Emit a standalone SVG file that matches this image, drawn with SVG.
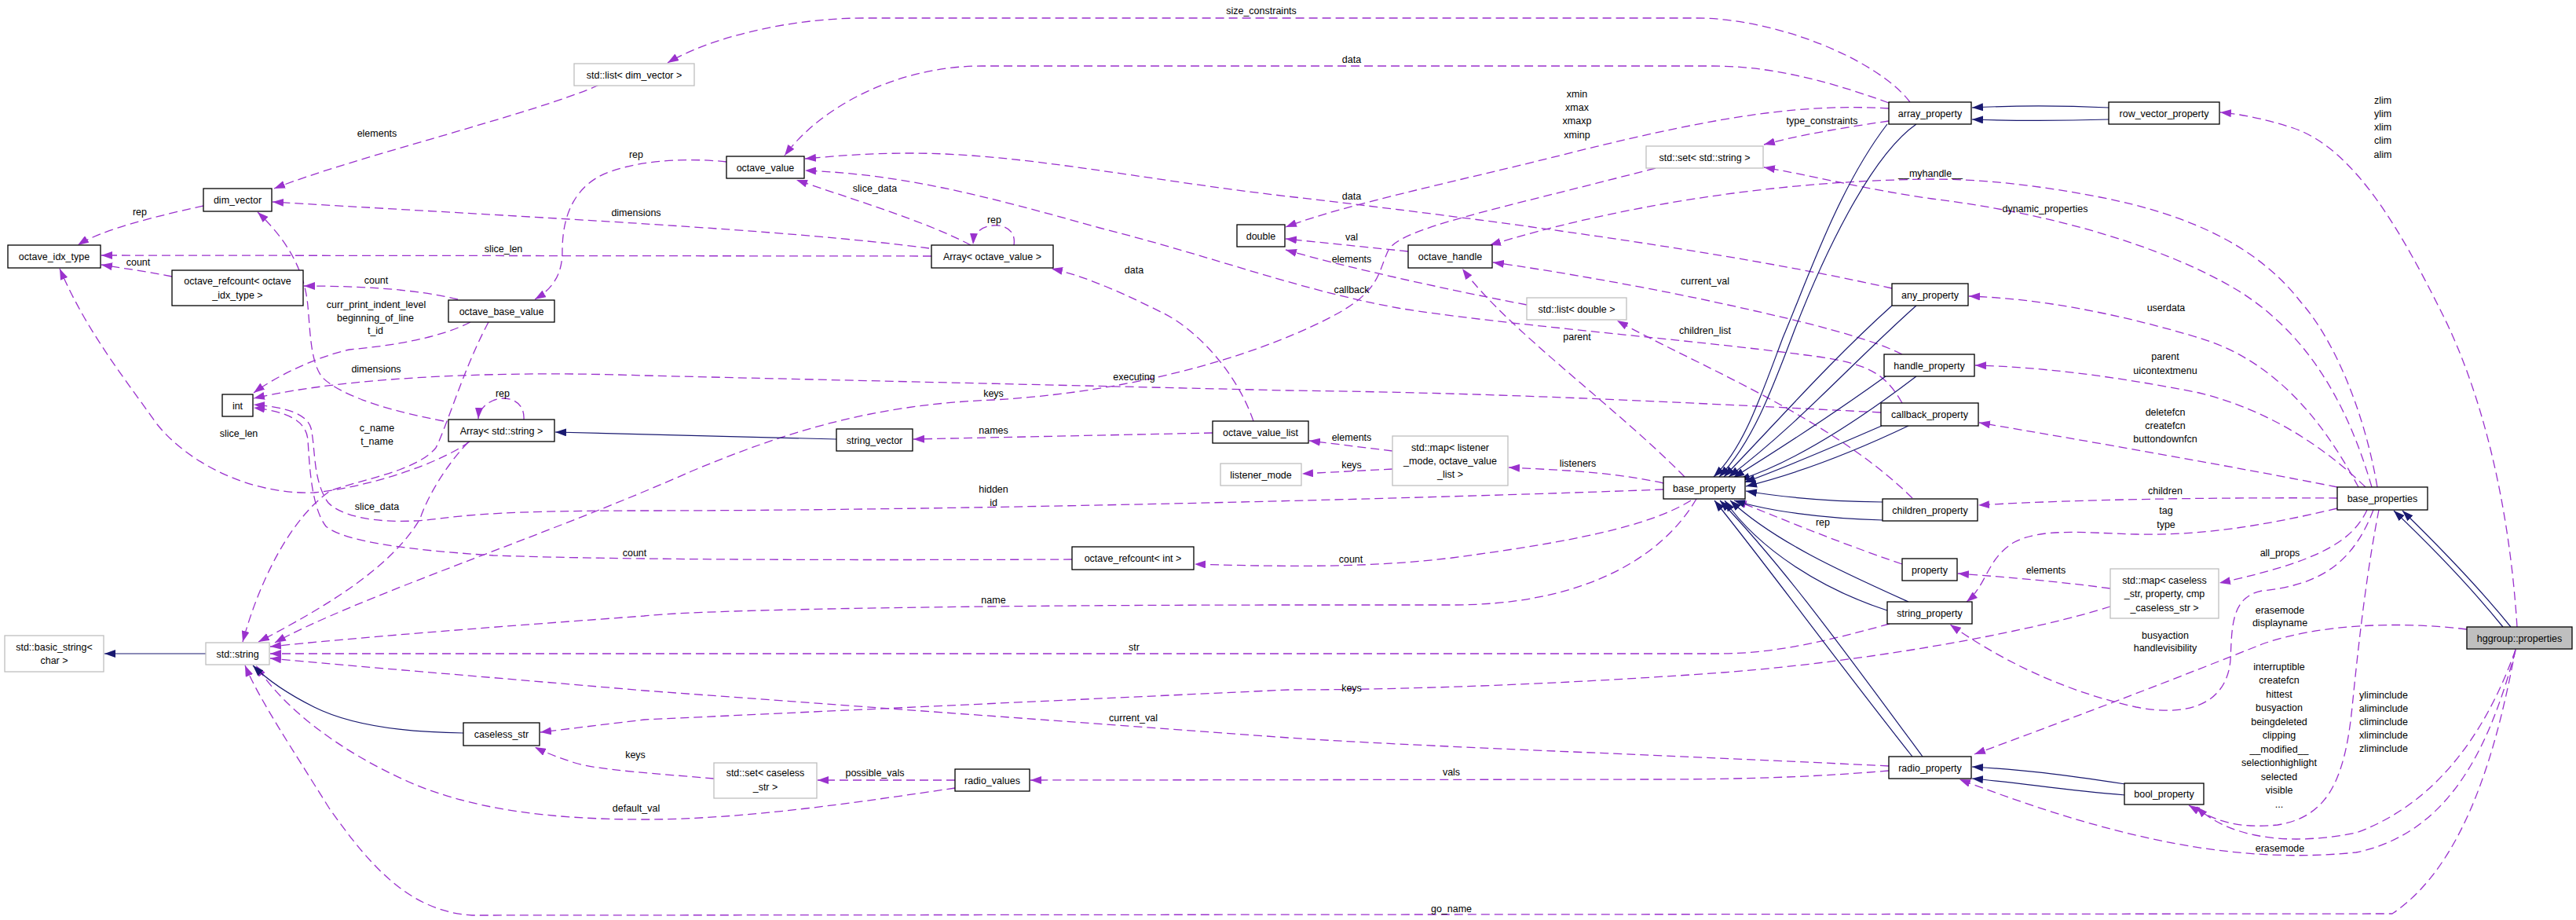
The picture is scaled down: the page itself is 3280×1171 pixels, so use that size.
<svg xmlns="http://www.w3.org/2000/svg" width="3280" height="1171" viewBox="0 0 3280 1171">
<style>
text{font-family:"Liberation Sans",Arial,sans-serif;font-size:12.5px;fill:#000;text-anchor:middle}
.node rect{fill:#fff;stroke:#000;stroke-width:1.3}
.node rect.gray{stroke:#bfbfbf}
.node rect.main{fill:#bfbfbf}
.u{fill:none;stroke:#9a32cd;stroke-width:1.3;stroke-dasharray:11,6;marker-end:url(#ap)}
.i{fill:none;stroke:#191970;stroke-width:1.2;marker-end:url(#ab)}
</style>
<defs>
<marker id="ap" markerUnits="userSpaceOnUse" markerWidth="14" markerHeight="10" viewBox="0 0 14 10" refX="14" refY="5" orient="auto"><path d="M0,0 L14,5 L0,10 z" fill="#9a32cd"/></marker>
<marker id="ab" markerUnits="userSpaceOnUse" markerWidth="14" markerHeight="10" viewBox="0 0 14 10" refX="14" refY="5" orient="auto"><path d="M0,0 L14,5 L0,10 z" fill="#191970"/></marker>
</defs>
<rect width="3280" height="1171" fill="#fff"/>

<g id="connectors">
<g class="edge"><path class="u" d="M763,108 C 680,145 450,200 349,240"/><text x="480" y="173.5">elements</text></g>
<g class="edge"><path class="u" d="M259,262 C 200,275 130,292 99,312"/><text x="178" y="273.5">rep</text></g>
<g class="edge"><path class="u" d="M219,352 C 190,346 160,342 129,337"/><text x="176" y="337.5">count</text></g>
<g class="edge"><path class="u" d="M583,381 C 530,368 460,364 387,364"/><text x="479" y="360.5">count</text></g>
<g class="edge"><path class="u" d="M1186,326 L129,325"/><text x="641" y="320.5">slice_len</text></g>
<g class="edge"><path class="u" d="M1183,316 C 1000,292 700,278 347,257"/><text x="810" y="274.5">dimensions</text></g>
<g class="edge"><path class="u" d="M925,206 C 870,200 800,205 762,225 C 722,248 716,290 716,320 C 716,350 703,368 681,381"/><text x="810" y="200.5">rep</text></g>
<g class="edge"><path class="u" d="M1236,312 C 1180,282 1080,252 1014,229"/><text x="1114" y="243.5">slice_data</text></g>
<g class="edge"><path class="u" d="M1291,312 C 1294,292 1278,286 1265,287 C 1250,288 1240,296 1239,311"/><text x="1266" y="283.5">rep</text></g>
<g class="edge"><path class="u" d="M2432,130 C 2390,75 2260,23 2160,23 L 1100,23 C 1000,23 900,50 850,80"/><text x="1606" y="17.5">size_constraints</text></g>
<g class="edge"><path class="u" d="M2405,131 C 2320,100 2250,84 2180,84 L 1250,84 C 1150,84 1050,130 999,198"/><text x="1721" y="79.5">data</text></g>
<g class="edge"><path class="u" d="M2405,138 C 2300,132 2200,145 2006,193 C 1860,230 1720,258 1637,289"/><text x="2008" y="123.5">xmin</text><text x="2008" y="140.5">xmax</text><text x="2008" y="157.5">xmaxp</text><text x="2008" y="175.5">xminp</text></g>
<g class="edge"><path class="u" d="M2405,154 C 2350,162 2290,172 2246,184"/><text x="2320" y="157.5">type_constraints</text></g>
<g class="edge"><path class="u" d="M2108,214 C 1900,268 1785,290 1768,318 C 1755,345 1758,368 1705,398 C 1620,445 1460,498 1265,509 C 1110,515 1000,550 880,600 C 700,680 450,762 350,818"/><text x="1265" y="504.5">keys</text></g>
<g class="edge"><path class="u" d="M1544,551 L1163,559"/><text x="1265" y="551.5">names</text></g>
<g class="edge"><path class="u" d="M1596,536 C 1575,475 1525,420 1480,398 C 1440,378 1385,352 1339,342"/><text x="1444" y="347.5">data</text></g>
<g class="edge"><path class="u" d="M1773,574 L1667,561"/><text x="1721" y="560.5">elements</text></g>
<g class="edge"><path class="u" d="M1773,597 L1658,603"/><text x="1721" y="595.5">keys</text></g>
<g class="edge"><path class="u" d="M2118,615 C 2050,600 1980,598 1921,595"/><text x="2009" y="593.5">listeners</text></g>
<g class="edge"><path class="u" d="M2145,607 C 2060,520 1920,420 1862,342"/><text x="2008" y="432.5">parent</text></g>
<g class="edge"><path class="u" d="M2422,513 C 2400,475 2380,462 2300,452 C 2150,432 1900,412 1780,392 C 1650,368 1550,328 1400,290 C 1250,248 1150,222 1025,217"/><text x="1721" y="372.5">callback</text></g>
<g class="edge"><path class="u" d="M2409,367 C 2200,320 1900,280 1640,250 C 1450,228 1300,195 1160,195 C 1100,195 1060,199 1025,202"/><text x="1721" y="253.5">data</text></g>
<g class="edge"><path class="u" d="M1793,320 L1637,304"/><text x="1721" y="305.5">val</text></g>
<g class="edge"><path class="u" d="M1944,388 C 1850,370 1720,342 1637,318"/><text x="1721" y="333.5">elements</text></g>
<g class="edge"><path class="u" d="M3027,620 C 3010,520 2970,430 2930,385 C 2880,320 2800,275 2669,250 C 2600,237 2530,228 2460,228 C 2250,230 2050,265 1897,312"/><text x="2458" y="224.5">__myhandle__</text></g>
<g class="edge"><path class="u" d="M3020,620 C 2985,500 2930,420 2850,370 C 2750,310 2600,270 2460,253 C 2380,242 2300,222 2246,213"/><text x="2604" y="269.5">dynamic_properties</text></g>
<g class="edge"><path class="u" d="M3003,620 C 2960,540 2900,460 2800,430 C 2700,400 2600,380 2507,377"/><text x="2758" y="395.5">userdata</text></g>
<g class="edge"><path class="u" d="M2422,451 C 2380,430 2300,410 2200,388 C 2100,366 1980,345 1901,334"/><text x="2171" y="361.5">current_val</text></g>
<g class="edge"><path class="u" d="M2435,634 C 2330,530 2150,460 2059,408"/><text x="2171" y="424.5">children_list</text></g>
<g class="edge"><path class="u" d="M2395,525 C 2100,510 1900,500 1640,497 L 820,478 C 650,472 450,478 323,507"/><text x="1444" y="483.5">executing</text></g>
<g class="edge"><path class="u" d="M599,410 C 560,430 500,440 445,445 C 400,455 350,480 323,500"/><text x="479" y="391.5">curr_print_indent_level</text><text x="478" y="408.5">beginning_of_line</text><text x="478" y="424.5">t_id</text></g>
<g class="edge"><path class="u" d="M2118,623 C 1800,635 1200,650 820,650 C 700,650 620,652 560,660 C 500,668 440,662 418,640 C 398,612 402,572 396,545 C 390,525 360,518 323,515"/><text x="1265" y="626.5">hidden</text><text x="1265" y="643.5">id</text></g>
<g class="edge"><path class="u" d="M1365,712 C 1100,713 800,713 628,707 C 520,700 440,690 415,670 C 396,645 394,590 392,560 C 390,535 365,524 323,519"/><text x="808" y="707.5">count</text></g>
<g class="edge"><path class="u" d="M2153,637 C 2100,670 2000,690 1849,710 C 1750,722 1650,722 1521,718"/><text x="1720" y="715.5">count</text></g>
<g class="edge"><path class="u" d="M2160,635 C 2110,720 2000,770 1850,770 L 1640,770 C 1300,770 900,775 820,784 C 600,800 450,812 344,823"/><text x="1265" y="767.5">name</text></g>
<g class="edge"><path class="u" d="M2406,794 C 2330,815 2260,832 2190,832 L 344,832"/><text x="1444" y="827.5">str</text></g>
<g class="edge"><path class="u" d="M2405,975 C 2100,960 1800,950 1640,939 L 820,879 C 600,860 450,848 344,838"/><text x="1443" y="917.5">current_val</text></g>
<g class="edge"><path class="u" d="M2687,772 C 2600,800 2400,840 2194,856 C 2000,870 1800,878 1640,878 L 820,916 L 688,932"/><text x="1721" y="879.5">keys</text></g>
<g class="edge"><path class="u" d="M909,991 C 840,985 760,980 732,971 C 710,964 695,958 681,951"/><text x="809" y="964.5">keys</text></g>
<g class="edge"><path class="u" d="M1216,993 L1041,993"/><text x="1114" y="987.5">possible_vals</text></g>
<g class="edge"><path class="u" d="M1216,1003 C 1100,1020 950,1043 820,1043 C 700,1043 600,1030 520,995 C 430,955 360,900 326,847"/><text x="810" y="1032.5">default_val</text></g>
<g class="edge"><path class="u" d="M3203,826 C 3180,950 3140,1100 3046,1163 L 601,1165 C 520,1160 470,1100 420,1030 C 370,950 330,890 312,847"/><text x="1848" y="1160.5">go_name</text></g>
<g class="edge"><path class="u" d="M2405,981 C 2300,990 2200,992 2100,992 L 1312,993"/><text x="1848" y="986.5">vals</text></g>
<g class="edge"><path class="u" d="M3205,798 C 3195,640 3160,500 3110,400 C 3060,300 3000,190 2920,163 C 2880,150 2850,145 2827,143"/><text x="3034" y="131.5">zlim</text><text x="3034" y="148.5">ylim</text><text x="3034" y="165.5">xlim</text><text x="3034" y="182.5">clim</text><text x="3034" y="200.5">alim</text></g>
<g class="edge"><path class="u" d="M3012,620 C 2950,560 2880,520 2800,500 C 2700,480 2600,467 2515,465"/><text x="2757" y="457.5">parent</text><text x="2757" y="475.5">uicontextmenu</text></g>
<g class="edge"><path class="u" d="M2976,620 C 2850,595 2650,560 2520,538"/><text x="2757" y="528.5">deletefcn</text><text x="2757" y="545.5">createfcn</text><text x="2757" y="562.5">buttondownfcn</text></g>
<g class="edge"><path class="u" d="M2976,634 C 2850,633 2650,635 2519,643"/><text x="2757" y="628.5">children</text></g>
<g class="edge"><path class="u" d="M2976,647 C 2880,670 2800,682 2720,680 C 2650,678 2600,672 2565,690 C 2530,710 2530,745 2504,766"/><text x="2758" y="653.5">tag</text><text x="2758" y="671.5">type</text></g>
<g class="edge"><path class="u" d="M3014,649 C 2995,690 2950,715 2826,742"/><text x="2903" y="707.5">all_props</text></g>
<g class="edge"><path class="u" d="M2687,749 C 2620,740 2560,735 2493,730"/><text x="2605" y="729.5">elements</text></g>
<g class="edge"><path class="u" d="M2422,718 C 2340,690 2280,665 2210,637"/><text x="2321" y="668.5">rep</text></g>
<g class="edge"><path class="u" d="M3022,649 C 2995,720 2950,745 2880,752 C 2840,760 2842,800 2840,840 C 2835,900 2780,912 2720,900 C 2620,878 2540,835 2483,795"/><text x="2903" y="780.5">erasemode</text><text x="2903" y="796.5">displayname</text></g>
<g class="edge"><path class="u" d="M3141,801 C 3050,790 2950,795 2880,820 C 2780,860 2650,910 2514,960"/><text x="2757" y="812.5">busyaction</text><text x="2757" y="828.5">handlevisibility</text></g>
<g class="edge"><path class="u" d="M3203,828 C 3170,950 3120,1060 3000,1085 C 2850,1100 2700,1070 2495,992"/><text x="2903" y="1083.5">erasemode</text></g>
<g class="edge"><path class="u" d="M3029,649 C 3015,720 3005,800 2995,900 C 2985,1000 2960,1040 2900,1050 C 2850,1055 2820,1045 2787,1025"/><text x="2902" y="852.5">interruptible</text><text x="2902" y="870">createfcn</text><text x="2902" y="887.5">hittest</text><text x="2902" y="905">busyaction</text><text x="2902" y="922.5">beingdeleted</text><text x="2902" y="940">clipping</text><text x="2902" y="957.5">__modified__</text><text x="2902" y="975">selectionhighlight</text><text x="2902" y="992.5">selected</text><text x="2902" y="1010">visible</text><text x="2902" y="1027.5">...</text></g>
<g class="edge"><path class="u" d="M3203,827 C 3170,920 3110,1020 3000,1060 C 2900,1080 2830,1060 2797,1027"/><text x="3035" y="888.5">yliminclude</text><text x="3035" y="905.5">aliminclude</text><text x="3035" y="922.5">climinclude</text><text x="3035" y="939.5">xliminclude</text><text x="3035" y="956.5">zliminclude</text></g>
<g class="edge"><path class="u" d="M667,534 C 668,515 655,507 640,507 C 625,508 610,518 609,533"/><text x="640" y="504.5">rep</text></g>
<g class="edge"><path class="u" d="M565,536 C 480,520 430,500 410,480 C 395,460 395,420 392,390 C 388,340 360,300 328,270"/><text x="479" y="473.5">dimensions</text></g>
<g class="edge"><path class="u" d="M598,562 C 560,590 470,620 400,627 C 320,630 240,590 200,540 C 150,470 110,420 76,342"/><text x="304" y="555.5">slice_len</text></g>
<g class="edge"><path class="u" d="M622,410 C 590,470 570,540 555,570 C 530,600 460,610 420,625 C 370,660 330,740 309,817"/><text x="480" y="548.5">c_name</text><text x="480" y="565.5">t_name</text></g>
<g class="edge"><path class="u" d="M596,563 C 570,590 545,630 535,660 C 500,720 420,770 329,817"/><text x="480" y="648.5">slice_data</text></g>

<path class="i" d="M2685,137 C 2620,134 2570,134 2511,137"/>
<path class="i" d="M2685,152 C 2620,154 2570,154 2511,152"/>
<path class="i" d="M2403,158 C 2340,240 2300,360 2270,430 C 2240,510 2220,570 2182,607"/>
<path class="i" d="M2440,158 C 2380,200 2320,330 2285,420 C 2255,500 2230,565 2189,607"/>
<path class="i" d="M2409,389 C 2330,460 2260,540 2195,607"/>
<path class="i" d="M2440,389 C 2360,460 2290,540 2201,607"/>
<path class="i" d="M2401,479 C 2330,530 2260,575 2207,608"/>
<path class="i" d="M2440,479 C 2360,540 2280,590 2214,611"/>
<path class="i" d="M2396,542 C 2320,575 2260,600 2221,614"/>
<path class="i" d="M2430,542 C 2350,580 2280,605 2223,619"/>
<path class="i" d="M2397,639 C 2320,638 2270,633 2223,625"/>
<path class="i" d="M2397,662 C 2320,660 2250,650 2208,637"/>
<path class="i" d="M2430,766 C 2350,730 2260,690 2203,637"/>
<path class="i" d="M2403,777 C 2320,750 2240,700 2196,637"/>
<path class="i" d="M2435,963 C 2330,830 2250,720 2183,637"/>
<path class="i" d="M2448,963 C 2350,830 2270,720 2190,637"/>
<path class="i" d="M2706,998 C 2620,985 2580,980 2511,976"/>
<path class="i" d="M2706,1012 C 2620,1005 2580,997 2511,991"/>
<path class="i" d="M3187,798 C 3140,740 3090,690 3048,650"/>
<path class="i" d="M3197,798 C 3150,740 3100,690 3059,650"/>
<path class="i" d="M590,933 C 500,932 440,920 400,900 C 360,880 335,860 322,847"/>
<path class="i" d="M262,832 L133,832"/>
<path class="i" d="M1065,559 L707,550"/>
</g>

<g id="n_std_list_dim_vector" class="node"><rect class="gray" x="731" y="81" width="153" height="28"/><text x="807.5" y="99.5">std::list&lt; dim_vector &gt;</text></g>
<g id="n_dim_vector" class="node"><rect x="259" y="240" width="87" height="29"/><text x="302.5" y="259">dim_vector</text></g>
<g id="n_octave_idx_type" class="node"><rect x="10" y="312" width="118" height="29"/><text x="69" y="331">octave_idx_type</text></g>
<g id="n_octave_refcount_idx" class="node"><rect x="219" y="344" width="167" height="45"/><text x="302.5" y="361.5">octave_refcount&lt; octave</text><text x="302.5" y="379.5">_idx_type &gt;</text></g>
<g id="n_octave_base_value" class="node"><rect x="571" y="382" width="135" height="28"/><text x="638.5" y="400.5">octave_base_value</text></g>
<g id="n_octave_value" class="node"><rect x="925" y="199" width="99" height="28"/><text x="974.5" y="217.5">octave_value</text></g>
<g id="n_array_octave_value" class="node"><rect x="1186" y="312" width="155" height="29"/><text x="1263.5" y="331">Array&lt; octave_value &gt;</text></g>
<g id="n_double" class="node"><rect x="1575" y="286" width="61" height="28"/><text x="1605.5" y="304.5">double</text></g>
<g id="n_array_property" class="node"><rect x="2405" y="130" width="105" height="28"/><text x="2457.5" y="148.5">array_property</text></g>
<g id="n_row_vector_property" class="node"><rect x="2685" y="130" width="141" height="28"/><text x="2755.5" y="148.5">row_vector_property</text></g>
<g id="n_std_set_string" class="node"><rect class="gray" x="2096" y="186" width="149" height="28"/><text x="2170.5" y="204.5">std::set&lt; std::string &gt;</text></g>
<g id="n_octave_handle" class="node"><rect x="1793" y="312" width="107" height="29"/><text x="1846.5" y="331">octave_handle</text></g>
<g id="n_std_list_double" class="node"><rect class="gray" x="1944" y="379" width="127" height="28"/><text x="2007.5" y="397.5">std::list&lt; double &gt;</text></g>
<g id="n_any_property" class="node"><rect x="2409" y="361" width="97" height="28"/><text x="2457.5" y="379.5">any_property</text></g>
<g id="n_int" class="node"><rect x="283" y="502" width="39" height="28"/><text x="302.5" y="520.5">int</text></g>
<g id="n_array_string" class="node"><rect x="571" y="534" width="135" height="28"/><text x="638.5" y="552.5">Array&lt; std::string &gt;</text></g>
<g id="n_string_vector" class="node"><rect x="1065" y="546" width="97" height="28"/><text x="1113.5" y="564.5">string_vector</text></g>
<g id="n_octave_value_list" class="node"><rect x="1544" y="536" width="122" height="28"/><text x="1605" y="554.5">octave_value_list</text></g>
<g id="n_listener_mode" class="node"><rect class="gray" x="1554" y="590" width="103" height="28"/><text x="1605.5" y="608.5">listener_mode</text></g>
<g id="n_octave_refcount_int" class="node"><rect x="1365" y="696" width="155" height="29"/><text x="1442.5" y="715">octave_refcount&lt; int &gt;</text></g>
<g id="n_handle_property" class="node"><rect x="2399" y="451" width="115" height="28"/><text x="2456.5" y="469.5">handle_property</text></g>
<g id="n_callback_property" class="node"><rect x="2395" y="513" width="124" height="29"/><text x="2457" y="532">callback_property</text></g>
<g id="n_std_map_listener" class="node"><rect class="gray" x="1773" y="555" width="147" height="63"/><text x="1846.5" y="573.5">std::map&lt; listener</text><text x="1846.5" y="590.5">_mode, octave_value</text><text x="1846.5" y="607.5">_list &gt;</text></g>
<g id="n_base_property" class="node"><rect x="2118" y="607" width="104" height="28"/><text x="2170" y="625.5">base_property</text></g>
<g id="n_children_property" class="node"><rect x="2397" y="635" width="121" height="28"/><text x="2457.5" y="653.5">children_property</text></g>
<g id="n_property" class="node"><rect x="2422" y="711" width="70" height="28"/><text x="2457" y="729.5">property</text></g>
<g id="n_string_property" class="node"><rect x="2403" y="766" width="108" height="28"/><text x="2457" y="784.5">string_property</text></g>
<g id="n_base_properties" class="node"><rect x="2976" y="620" width="115" height="29"/><text x="3033.5" y="639">base_properties</text></g>
<g id="n_std_map_caseless" class="node"><rect class="gray" x="2687" y="724" width="138" height="63"/><text x="2756" y="742.5">std::map&lt; caseless</text><text x="2756" y="760">_str, property, cmp</text><text x="2756" y="777.5">_caseless_str &gt;</text></g>
<g id="n_std_basic_string" class="node"><rect class="gray" x="6" y="809" width="126" height="46"/><text x="69" y="827.5">std::basic_string&lt;</text><text x="69" y="844.5">char &gt;</text></g>
<g id="n_std_string" class="node"><rect class="gray" x="262" y="818" width="81" height="28"/><text x="302.5" y="836.5">std::string</text></g>
<g id="n_caseless_str" class="node"><rect x="590" y="920" width="97" height="29"/><text x="638.5" y="939">caseless_str</text></g>
<g id="n_std_set_caseless" class="node"><rect class="gray" x="909" y="971" width="131" height="45"/><text x="974.5" y="987.5">std::set&lt; caseless</text><text x="974.5" y="1005.5">_str &gt;</text></g>
<g id="n_radio_values" class="node"><rect x="1216" y="979" width="95" height="28"/><text x="1263.5" y="997.5">radio_values</text></g>
<g id="n_radio_property" class="node"><rect x="2405" y="963" width="105" height="28"/><text x="2457.5" y="981.5">radio_property</text></g>
<g id="n_hggroup_properties" class="node"><rect class="main" x="3141" y="798" width="134" height="28"/><text x="3208" y="816.5">hggroup::properties</text></g>
<g id="n_bool_property" class="node"><rect x="2705" y="997" width="101" height="27"/><text x="2755.5" y="1015">bool_property</text></g>
</svg>
